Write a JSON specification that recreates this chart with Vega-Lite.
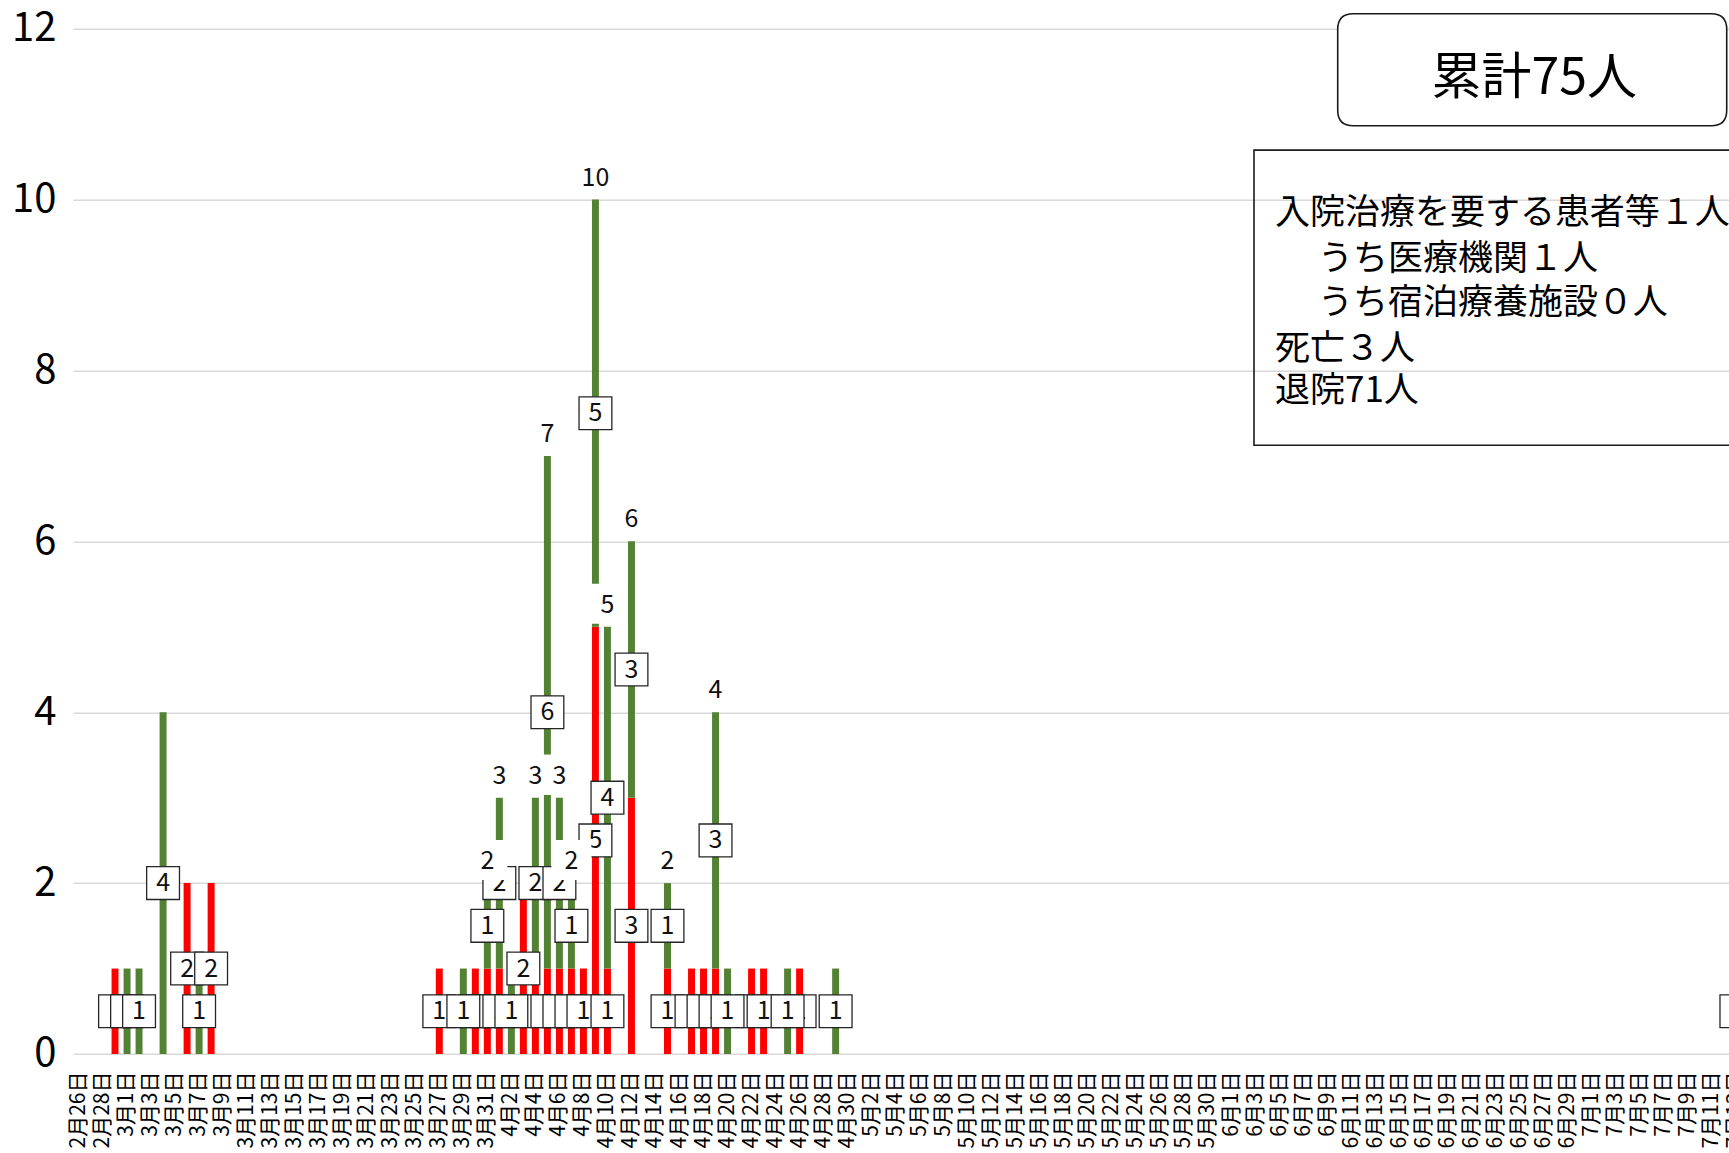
{
  "$schema": "https://vega.github.io/schema/vega-lite/v6.json",
  "width": 1669.4,
  "height": 1025.3,
  "autosize": {"type": "none"},
  "padding": {"left": 73, "top": 28.7, "right": 0, "bottom": 99},
  "background": "#ffffff",
  "config": {"view": {"stroke": null}, "font": "Noto Sans CJK JP"},
  "data": {"values": [
    {"date": "2020-02-29", "series": "系列1", "n": 1},
    {"date": "2020-03-06", "series": "系列1", "n": 2},
    {"date": "2020-03-08", "series": "系列1", "n": 2},
    {"date": "2020-03-27", "series": "系列1", "n": 1},
    {"date": "2020-03-30", "series": "系列1", "n": 1},
    {"date": "2020-03-31", "series": "系列1", "n": 1},
    {"date": "2020-04-01", "series": "系列1", "n": 1},
    {"date": "2020-04-03", "series": "系列1", "n": 2},
    {"date": "2020-04-04", "series": "系列1", "n": 1},
    {"date": "2020-04-05", "series": "系列1", "n": 1},
    {"date": "2020-04-06", "series": "系列1", "n": 1},
    {"date": "2020-04-07", "series": "系列1", "n": 1},
    {"date": "2020-04-08", "series": "系列1", "n": 1},
    {"date": "2020-04-09", "series": "系列1", "n": 5},
    {"date": "2020-04-10", "series": "系列1", "n": 1},
    {"date": "2020-04-12", "series": "系列1", "n": 3},
    {"date": "2020-04-15", "series": "系列1", "n": 1},
    {"date": "2020-04-17", "series": "系列1", "n": 1},
    {"date": "2020-04-18", "series": "系列1", "n": 1},
    {"date": "2020-04-19", "series": "系列1", "n": 1},
    {"date": "2020-04-22", "series": "系列1", "n": 1},
    {"date": "2020-04-23", "series": "系列1", "n": 1},
    {"date": "2020-04-26", "series": "系列1", "n": 1},
    {"date": "2020-03-01", "series": "系列2", "n": 1},
    {"date": "2020-03-02", "series": "系列2", "n": 1},
    {"date": "2020-03-04", "series": "系列2", "n": 4},
    {"date": "2020-03-07", "series": "系列2", "n": 1},
    {"date": "2020-03-29", "series": "系列2", "n": 1},
    {"date": "2020-03-31", "series": "系列2", "n": 1},
    {"date": "2020-04-01", "series": "系列2", "n": 2},
    {"date": "2020-04-02", "series": "系列2", "n": 1},
    {"date": "2020-04-04", "series": "系列2", "n": 2},
    {"date": "2020-04-05", "series": "系列2", "n": 6},
    {"date": "2020-04-06", "series": "系列2", "n": 2},
    {"date": "2020-04-07", "series": "系列2", "n": 1},
    {"date": "2020-04-09", "series": "系列2", "n": 5},
    {"date": "2020-04-10", "series": "系列2", "n": 4},
    {"date": "2020-04-12", "series": "系列2", "n": 3},
    {"date": "2020-04-15", "series": "系列2", "n": 1},
    {"date": "2020-04-19", "series": "系列2", "n": 3},
    {"date": "2020-04-20", "series": "系列2", "n": 1},
    {"date": "2020-04-25", "series": "系列2", "n": 1},
    {"date": "2020-04-29", "series": "系列2", "n": 1},
    {"date": "2020-07-13", "series": "系列2", "n": 1}
  ]},
  "encoding": {
    "x": {
      "field": "date",
      "type": "ordinal",
      "title": null,
      "scale": {
        "paddingInner": 0.42,
        "paddingOuter": 0.21,
        "domain": ["2020-02-26","2020-02-27","2020-02-28","2020-02-29",
          "2020-03-01","2020-03-02","2020-03-03","2020-03-04","2020-03-05","2020-03-06","2020-03-07","2020-03-08","2020-03-09","2020-03-10","2020-03-11","2020-03-12","2020-03-13","2020-03-14","2020-03-15","2020-03-16","2020-03-17","2020-03-18","2020-03-19","2020-03-20","2020-03-21","2020-03-22","2020-03-23","2020-03-24","2020-03-25","2020-03-26","2020-03-27","2020-03-28","2020-03-29","2020-03-30","2020-03-31",
          "2020-04-01","2020-04-02","2020-04-03","2020-04-04","2020-04-05","2020-04-06","2020-04-07","2020-04-08","2020-04-09","2020-04-10","2020-04-11","2020-04-12","2020-04-13","2020-04-14","2020-04-15","2020-04-16","2020-04-17","2020-04-18","2020-04-19","2020-04-20","2020-04-21","2020-04-22","2020-04-23","2020-04-24","2020-04-25","2020-04-26","2020-04-27","2020-04-28","2020-04-29","2020-04-30",
          "2020-05-01","2020-05-02","2020-05-03","2020-05-04","2020-05-05","2020-05-06","2020-05-07","2020-05-08","2020-05-09","2020-05-10","2020-05-11","2020-05-12","2020-05-13","2020-05-14","2020-05-15","2020-05-16","2020-05-17","2020-05-18","2020-05-19","2020-05-20","2020-05-21","2020-05-22","2020-05-23","2020-05-24","2020-05-25","2020-05-26","2020-05-27","2020-05-28","2020-05-29","2020-05-30","2020-05-31",
          "2020-06-01","2020-06-02","2020-06-03","2020-06-04","2020-06-05","2020-06-06","2020-06-07","2020-06-08","2020-06-09","2020-06-10","2020-06-11","2020-06-12","2020-06-13","2020-06-14","2020-06-15","2020-06-16","2020-06-17","2020-06-18","2020-06-19","2020-06-20","2020-06-21","2020-06-22","2020-06-23","2020-06-24","2020-06-25","2020-06-26","2020-06-27","2020-06-28","2020-06-29","2020-06-30",
          "2020-07-01","2020-07-02","2020-07-03","2020-07-04","2020-07-05","2020-07-06","2020-07-07","2020-07-08","2020-07-09","2020-07-10","2020-07-11","2020-07-12","2020-07-13"]
      },
      "axis": {
        "title": null,
        "values": ["2020-02-26","2020-02-28",
          "2020-03-01","2020-03-03","2020-03-05","2020-03-07","2020-03-09","2020-03-11","2020-03-13","2020-03-15","2020-03-17","2020-03-19","2020-03-21","2020-03-23","2020-03-25","2020-03-27","2020-03-29","2020-03-31",
          "2020-04-02","2020-04-04","2020-04-06","2020-04-08","2020-04-10","2020-04-12","2020-04-14","2020-04-16","2020-04-18","2020-04-20","2020-04-22","2020-04-24","2020-04-26","2020-04-28","2020-04-30",
          "2020-05-02","2020-05-04","2020-05-06","2020-05-08","2020-05-10","2020-05-12","2020-05-14","2020-05-16","2020-05-18","2020-05-20","2020-05-22","2020-05-24","2020-05-26","2020-05-28","2020-05-30",
          "2020-06-01","2020-06-03","2020-06-05","2020-06-07","2020-06-09","2020-06-11","2020-06-13","2020-06-15","2020-06-17","2020-06-19","2020-06-21","2020-06-23","2020-06-25","2020-06-27","2020-06-29",
          "2020-07-01","2020-07-03","2020-07-05","2020-07-07","2020-07-09","2020-07-11","2020-07-13"],
        "labelExpr": "utcFormat(toDate(datum.value), '%-m月%-d日')",
        "labelAngle": 270,
        "labelFontSize": 21,
        "labelPadding": 17,
        "labelColor": "#000000",
        "labelOverlap": false,
        "ticks": false,
        "domain": false,
        "grid": false
      }
    }
  },
  "layer": [
    {
      "transform": [
        {"stack": "n", "groupby": ["date"], "sort": [{"field": "series", "order": "ascending"}], "as": ["y0", "y1"]}
      ],
      "mark": {"type": "bar"},
      "encoding": {
        "y": {
          "field": "y0",
          "type": "quantitative",
          "title": null,
          "scale": {"domain": [0, 12], "nice": false},
          "axis": {
            "title": null,
            "values": [0, 2, 4, 6, 8, 10, 12],
            "format": "d",
            "labelFontSize": 40,
            "labelPadding": 17,
            "labelColor": "#000000",
            "ticks": false,
            "domain": false,
            "grid": true,
            "gridColor": "#d9d9d9",
            "gridWidth": 1.5
          }
        },
        "y2": {"field": "y1"},
        "color": {
          "field": "series",
          "type": "nominal",
          "scale": {"domain": ["系列1", "系列2"], "range": ["#ff0000", "#548235"]},
          "legend": null
        }
      }
    },
    {
      "transform": [
        {"stack": "n", "groupby": ["date"], "sort": [{"field": "series", "order": "ascending"}], "as": ["y0", "y1"]},
        {"calculate": "(datum.y0 + datum.y1) / 2", "as": "mid"},
        {"filter": "datum.series === '系列1'"}
      ],
      "mark": {"type": "point", "shape": "square", "size": 1076, "filled": true, "fill": "#ffffff", "stroke": "#262626", "strokeWidth": 1.3, "opacity": 1},
      "encoding": {"y": {"field": "mid", "type": "quantitative", "title": null}}
    },
    {
      "transform": [
        {"stack": "n", "groupby": ["date"], "sort": [{"field": "series", "order": "ascending"}], "as": ["y0", "y1"]},
        {"calculate": "(datum.y0 + datum.y1) / 2", "as": "mid"},
        {"filter": "datum.series === '系列1'"},
        {"calculate": "toDate(datum.date)", "as": "t"},
        {"window": [{"op": "lead", "field": "t", "as": "tn"}, {"op": "lead", "field": "mid", "as": "mn"}], "sort": [{"field": "t", "order": "ascending"}]},
        {"filter": "datum.tn == null || datum.tn - datum.t > 86400000 || abs(datum.mn - datum.mid) >= 0.4"}
      ],
      "mark": {"type": "text", "fontSize": 25, "align": "center", "baseline": "middle", "color": "#111111"},
      "encoding": {"y": {"field": "mid", "type": "quantitative", "title": null}, "text": {"field": "n", "type": "quantitative"}}
    },
    {
      "transform": [
        {"stack": "n", "groupby": ["date"], "sort": [{"field": "series", "order": "ascending"}], "as": ["y0", "y1"]},
        {"calculate": "(datum.y0 + datum.y1) / 2", "as": "mid"},
        {"filter": "datum.series === '系列2'"}
      ],
      "mark": {"type": "point", "shape": "square", "size": 1076, "filled": true, "fill": "#ffffff", "stroke": "#262626", "strokeWidth": 1.3, "opacity": 1},
      "encoding": {"y": {"field": "mid", "type": "quantitative", "title": null}}
    },
    {
      "transform": [
        {"stack": "n", "groupby": ["date"], "sort": [{"field": "series", "order": "ascending"}], "as": ["y0", "y1"]},
        {"calculate": "(datum.y0 + datum.y1) / 2", "as": "mid"},
        {"filter": "datum.series === '系列2'"},
        {"calculate": "toDate(datum.date)", "as": "t"},
        {"window": [{"op": "lead", "field": "t", "as": "tn"}, {"op": "lead", "field": "mid", "as": "mn"}], "sort": [{"field": "t", "order": "ascending"}]},
        {"filter": "datum.tn == null || datum.tn - datum.t > 86400000 || abs(datum.mn - datum.mid) >= 0.4"}
      ],
      "mark": {"type": "text", "fontSize": 25, "align": "center", "baseline": "middle", "color": "#111111"},
      "encoding": {"y": {"field": "mid", "type": "quantitative", "title": null}, "text": {"field": "n", "type": "quantitative"}}
    },
    {
      "transform": [
        {"aggregate": [{"op": "sum", "field": "n", "as": "total"}, {"op": "count", "as": "k"}], "groupby": ["date"]},
        {"filter": "datum.k > 1"}
      ],
      "mark": {"type": "point", "shape": "square", "size": 1600, "filled": true, "fill": "#ffffff", "strokeWidth": 0, "opacity": 1, "yOffset": -23},
      "encoding": {"y": {"field": "total", "type": "quantitative", "title": null}}
    },
    {
      "transform": [
        {"aggregate": [{"op": "sum", "field": "n", "as": "total"}, {"op": "count", "as": "k"}], "groupby": ["date"]},
        {"filter": "datum.k > 1"}
      ],
      "mark": {"type": "text", "fontSize": 25, "align": "center", "baseline": "middle", "dy": -22, "color": "#111111"},
      "encoding": {"y": {"field": "total", "type": "quantitative", "title": null}, "text": {"field": "total", "type": "quantitative"}}
    },
    {
      "data": {"values": [{}]},
      "mark": {"type": "point", "shape": "M-0.92,-0.288H0.92Q1,-0.288,1,-0.208V0.208Q1,0.288,0.92,0.288H-0.92Q-1,0.288,-1,0.208V-0.208Q-1,-0.288,-0.92,-0.288Z", "size": 151321, "filled": true, "fill": "#ffffff", "stroke": "#1a1a1a", "strokeWidth": 1.6, "opacity": 1},
      "encoding": {
        "x": {"datum": "2020-06-26", "type": "ordinal", "title": null},
        "y": {"datum": 11.52, "type": "quantitative", "title": null}
      }
    },
    {
      "data": {"values": [{}]},
      "mark": {"type": "text", "text": "累計75人", "fontSize": 50, "align": "center", "baseline": "middle", "dx": 2, "color": "#000000"},
      "encoding": {
        "x": {"datum": "2020-06-26", "type": "ordinal", "title": null},
        "y": {"datum": 11.41, "type": "quantitative", "title": null}
      }
    },
    {
      "data": {"values": [{}]},
      "mark": {"type": "point", "shape": "M-1,-0.5803H1V0.5803H-1Z", "size": 258471, "filled": false, "color": "#1a1a1a", "strokeWidth": 1.6, "opacity": 1},
      "encoding": {
        "x": {"datum": "2020-06-24", "type": "ordinal", "title": null},
        "y": {"datum": 8.852, "type": "quantitative", "title": null}
      }
    },
    {
      "data": {"values": [{}]},
      "mark": {"type": "text", "text": "入院治療を要する患者等１人", "fontSize": 35, "align": "left", "baseline": "middle", "dx": -5, "color": "#000000"},
      "encoding": {
        "x": {"datum": "2020-06-05", "type": "ordinal", "title": null},
        "y": {"datum": 9.845, "type": "quantitative", "title": null}
      }
    },
    {
      "data": {"values": [{}]},
      "mark": {"type": "text", "text": ["うち医療機関１人", "うち宿泊療養施設０人"], "lineHeight": 44, "fontSize": 35, "align": "left", "baseline": "middle", "dx": 38, "color": "#000000"},
      "encoding": {
        "x": {"datum": "2020-06-05", "type": "ordinal", "title": null},
        "y": {"datum": 9.3, "type": "quantitative", "title": null}
      }
    },
    {
      "data": {"values": [{}]},
      "mark": {"type": "text", "text": ["死亡３人", "退院71人"], "lineHeight": 42, "fontSize": 35, "align": "left", "baseline": "middle", "dx": -5, "color": "#000000"},
      "encoding": {
        "x": {"datum": "2020-06-05", "type": "ordinal", "title": null},
        "y": {"datum": 8.25, "type": "quantitative", "title": null}
      }
    }
  ]
}
